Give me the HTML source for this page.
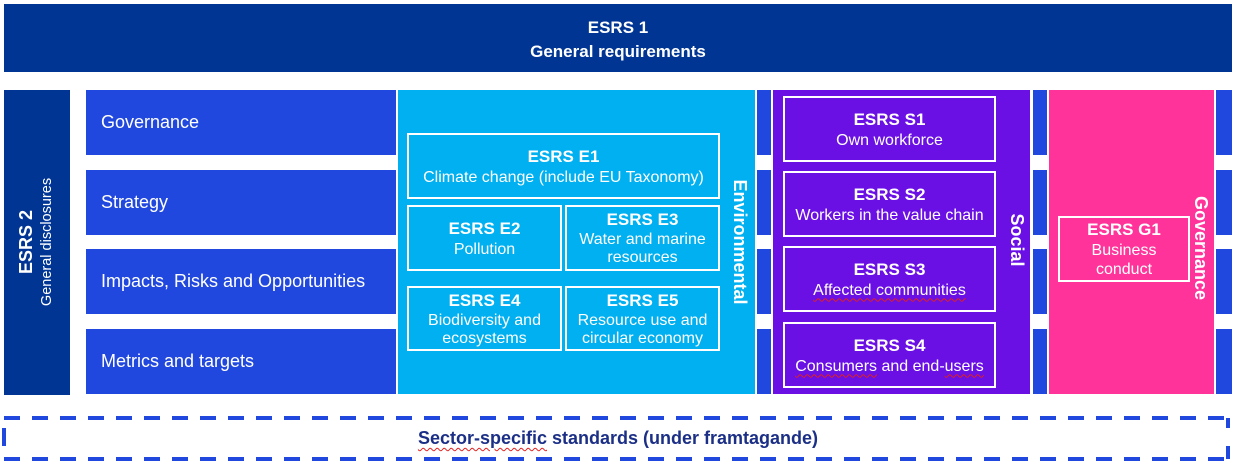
<!DOCTYPE html>
<html><head><meta charset="utf-8"><style>
body{margin:0;width:1236px;height:466px;background:#fff;position:relative;overflow:hidden;font-family:"Liberation Sans",Arial,sans-serif;color:#fff}
div{position:absolute;box-sizing:border-box}
.row{background:#2148de;left:86px;width:310px;height:65px;font-size:18px;padding-left:15px;display:flex;align-items:center}
.stub{background:#2148de;height:65px}
.b{border:2px solid #fff;text-align:center;font-size:16px;line-height:19px;display:flex;flex-direction:column;justify-content:center;white-space:nowrap}
.b b{font-size:17px;line-height:22px}
.v{transform:rotate(90deg);transform-origin:center;white-space:nowrap;font-weight:bold;font-size:18px;text-align:center}
.w{text-decoration:underline wavy #e02020;text-decoration-thickness:1px;text-underline-offset:3px}
</style></head><body>
<div style="left:4px;top:4px;width:1228px;height:68px;background:#003594;text-align:center;font-weight:bold;font-size:17px;line-height:24px;padding-top:12px">ESRS 1<br>General requirements</div>
<div style="left:4px;top:90px;width:66px;height:305px;background:#003594"></div>
<div style="left:-113px;top:222px;width:300px;height:40px;transform:rotate(-90deg);text-align:center;line-height:19px"><b style="font-size:18px">ESRS 2</b><br><span style="font-size:14.5px">General disclosures</span></div>
<div class="row" style="top:90px">Governance</div>
<div class="row" style="top:170px">Strategy</div>
<div class="row" style="top:249px">Impacts, Risks and Opportunities</div>
<div class="row" style="top:329px">Metrics and targets</div>
<div style="left:398px;top:90px;width:357px;height:304px;background:#00b0f0"></div>
<div class="b" style="left:407px;top:133px;width:313px;height:66px"><b>ESRS E1</b>Climate change (include EU Taxonomy)</div>
<div class="b" style="left:407px;top:205px;width:155px;height:66px"><b>ESRS E2</b>Pollution</div>
<div class="b" style="left:565px;top:205px;width:155px;height:66px;line-height:18px"><b>ESRS E3</b>Water and marine<br>resources</div>
<div class="b" style="left:407px;top:286px;width:155px;height:65px;line-height:18px"><b>ESRS E4</b>Biodiversity and<br>ecosystems</div>
<div class="b" style="left:565px;top:286px;width:155px;height:65px;line-height:18px"><b>ESRS E5</b>Resource use and<br>circular economy</div>
<div class="v" style="left:640px;top:232px;width:200px;height:20px">Environmental</div>
<div class="stub" style="left:757px;top:90px;width:14px"></div>
<div class="stub" style="left:757px;top:170px;width:14px"></div>
<div class="stub" style="left:757px;top:249px;width:14px"></div>
<div class="stub" style="left:757px;top:329px;width:14px"></div>
<div style="left:773px;top:90px;width:257px;height:304px;background:#6a10e4"></div>
<div class="b" style="left:783px;top:96px;width:213px;height:66px"><b>ESRS S1</b>Own workforce</div>
<div class="b" style="left:783px;top:171px;width:213px;height:66px"><b>ESRS S2</b>Workers in the value chain</div>
<div class="b" style="left:783px;top:246px;width:213px;height:66px"><b>ESRS S3</b><span><span class="w">Affected communities</span></span></div>
<div class="b" style="left:783px;top:322px;width:213px;height:66px"><b>ESRS S4</b><span><span class="w">Consumers</span> and end-<span class="w">users</span></span></div>
<div class="v" style="left:967px;top:230px;width:100px;height:20px">Social</div>
<div class="stub" style="left:1033px;top:90px;width:14px"></div>
<div class="stub" style="left:1033px;top:170px;width:14px"></div>
<div class="stub" style="left:1033px;top:249px;width:14px"></div>
<div class="stub" style="left:1033px;top:329px;width:14px"></div>
<div style="left:1049px;top:90px;width:165px;height:304px;background:#ff3399"></div>
<div class="b" style="left:1058px;top:216px;width:132px;height:66px;line-height:19px"><b>ESRS G1</b>Business<br>conduct</div>
<div class="v" style="left:1141px;top:238px;width:120px;height:20px">Governance</div>
<div class="stub" style="left:1216px;top:90px;width:16px"></div>
<div class="stub" style="left:1216px;top:170px;width:16px"></div>
<div class="stub" style="left:1216px;top:249px;width:16px"></div>
<div class="stub" style="left:1216px;top:329px;width:16px"></div>
<svg style="position:absolute;left:0;top:0" width="1236" height="466">
<line x1="4" y1="418" x2="1230" y2="418" stroke="#2148de" stroke-width="4" stroke-dasharray="16 12"/>
<line x1="4" y1="459" x2="1230" y2="459" stroke="#2148de" stroke-width="4" stroke-dasharray="16 12"/>
<line x1="4" y1="428" x2="4" y2="446" stroke="#2148de" stroke-width="4"/>
<line x1="1228" y1="418" x2="1228" y2="428" stroke="#2148de" stroke-width="4"/>
<line x1="1228" y1="446" x2="1228" y2="459" stroke="#2148de" stroke-width="4"/>
</svg>
<div style="left:0;top:428px;width:1236px;text-align:center;color:#1b2f86;font-weight:bold;font-size:18px"><span class="w">Sector-specific</span> standards (under framtagande)</div>
</body></html>
